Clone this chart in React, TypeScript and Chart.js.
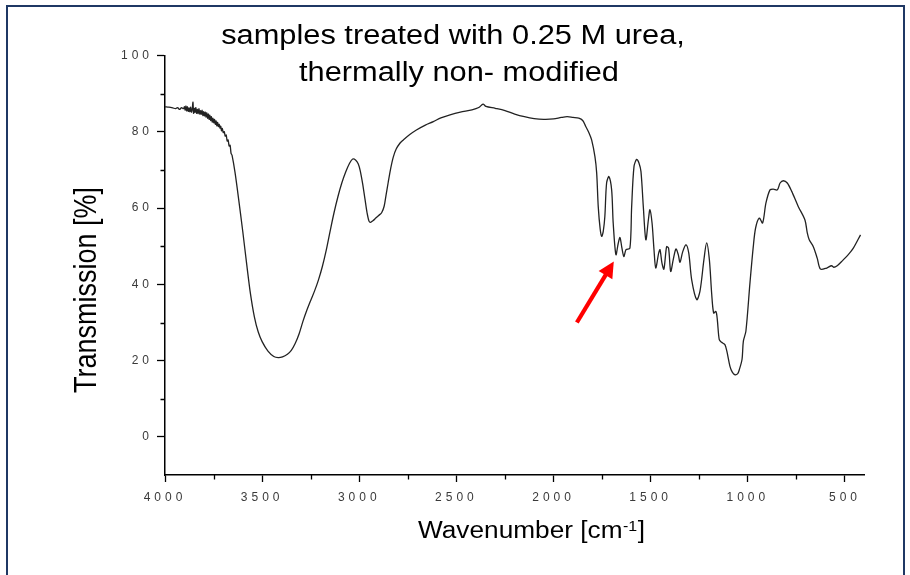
import React, { useEffect, useRef } from "react";
import { Chart, registerables } from "chart.js";

Chart.register(...registerables);

// ---------- data ----------
const WAVENUMBER = [
  4000, 3980, 3960, 3945, 3935, 3925, 3915, 3905, 3900, 3896, 3892, 3888, 3884, 3880, 3876,
  3872, 3868, 3864, 3860, 3856, 3853, 3849, 3845, 3841, 3837, 3833, 3829, 3825, 3821, 3817,
  3813, 3809, 3805, 3801, 3797, 3793, 3789, 3785, 3781, 3777, 3773, 3769, 3765, 3761, 3757,
  3753, 3749, 3745, 3741, 3737, 3733, 3729, 3725, 3721, 3717, 3713, 3709, 3705, 3700, 3695,
  3690, 3685, 3680, 3675, 3670, 3665, 3660, 3655, 3640, 3620, 3600, 3580, 3560, 3540, 3520,
  3500, 3470, 3440, 3417, 3395, 3370, 3350, 3330, 3310, 3290, 3270, 3250, 3230, 3210, 3190,
  3170, 3150, 3130, 3110, 3090, 3070, 3050, 3034, 3018, 3005, 2995, 2983, 2971, 2960, 2950,
  2942, 2930, 2915, 2900, 2885, 2872, 2862, 2851, 2838, 2825, 2810, 2790, 2773, 2740, 2706,
  2660, 2619, 2580, 2533, 2480, 2420, 2385, 2363, 2348, 2300, 2250, 2200, 2150, 2100, 2050,
  2000, 1960, 1930, 1900, 1870, 1850, 1835, 1818, 1804, 1787, 1778, 1770, 1760, 1752, 1744,
  1736, 1727, 1715, 1701, 1693, 1679, 1667, 1658, 1648, 1638, 1627, 1607, 1598, 1586, 1572,
  1560, 1550, 1538, 1525, 1512, 1504, 1493, 1483, 1474, 1459, 1452, 1442, 1432, 1418, 1408,
  1397, 1384, 1370, 1358, 1349, 1335, 1318, 1304, 1289, 1263, 1246, 1226, 1212, 1198, 1186,
  1176, 1164, 1157, 1147, 1135, 1118, 1108, 1092, 1080, 1066, 1052, 1044, 1030, 1023, 1010,
  989, 972, 960, 941, 924, 907, 886, 869, 848, 834, 817, 797, 774, 740, 706,
  694, 684, 663, 643, 626, 594, 569, 557, 540, 517, 483, 457, 420,
];
const TRANSMISSION = [
  86.6, 86.5, 86.3, 86.1, 86.4, 85.9, 86.4, 86.1, 86.6, 85.7, 86.8, 85.5, 86.6, 85.4, 86.3,
  85.3, 86.5, 85.2, 86.0, 87.8, 84.9, 86.2, 85.1, 86.4, 84.9, 85.9, 84.8, 86.1, 84.7, 85.6,
  84.6, 85.7, 84.3, 85.3, 84.2, 85.2, 83.9, 85.0, 83.6, 84.7, 83.3, 84.4, 83.0, 84.0, 82.6,
  83.6, 82.4, 83.3, 82.0, 82.9, 81.6, 82.5, 81.4, 82.0, 81.0, 81.5, 80.3, 80.9, 79.8, 80.1,
  78.9, 79.2, 77.6, 77.9, 76.3, 76.5, 74.4, 73.9, 69.5, 62.0, 54.0, 45.5, 37.5, 31.5, 27.5,
  25.0, 22.5, 21.1, 20.8, 21.0, 21.7, 22.7, 24.5, 27.0, 30.3, 33.2, 35.8, 38.3, 41.2, 44.7,
  49.0, 54.0, 58.8, 63.0, 66.6, 69.5, 71.8, 72.9, 72.6, 71.6, 69.8, 66.5, 62.5, 58.8, 56.6,
  56.3, 56.7, 57.4, 58.1, 58.8, 60.5, 63.5, 66.8, 70.5, 73.4, 75.5, 77.1, 77.9, 79.3, 80.5,
  81.8, 82.7, 83.7, 84.5, 85.2, 85.8, 86.4, 87.3, 86.7, 86.2, 85.6, 84.7, 84.0, 83.5, 83.3,
  83.4, 83.8, 84.0, 83.8, 83.6, 83.0, 81.5, 79.8, 77.9, 73.5, 69.2, 60.4, 54.5, 52.6, 54.0,
  57.8, 66.6, 68.3, 64.8, 56.1, 47.8, 50.8, 52.3, 49.5, 47.3, 49.1, 49.5, 60.4, 70.9, 72.8,
  71.8, 69.6, 60.4, 51.7, 56.9, 59.6, 56.1, 49.1, 44.3, 48.2, 49.1, 45.6, 44.0, 49.9, 49.5,
  43.4, 46.5, 49.3, 47.8, 45.8, 48.6, 50.4, 48.2, 41.2, 36.0, 38.3, 46.5, 50.9, 46.5, 37.5,
  32.5, 32.9, 30.7, 25.5, 24.8, 24.2, 22.5, 18.5, 17.0, 16.3, 16.6, 17.6, 20.3, 25.1, 27.7,
  40.4, 49.9, 54.8, 57.4, 56.1, 61.3, 64.8, 65.0, 64.8, 66.6, 67.2, 66.6, 64.4, 60.4, 56.9,
  53.5, 51.7, 49.9, 46.9, 44.0, 44.3, 44.9, 44.5, 44.9, 46.0, 47.8, 49.5, 53.0,
];

const X_MAJOR_TICKS = [4000, 3500, 3000, 2500, 2000, 1500, 1000, 500];
const X_MINOR_TICKS = [3750, 3250, 2750, 2250, 1750, 1250, 750];
const Y_MAJOR_TICKS = [0, 20, 40, 60, 80, 100];
const Y_MINOR_TICKS = [10, 30, 50, 70, 90];

const TITLE_LINES = ["samples treated with 0.25 M urea,", "thermally non- modified"];
const Y_TITLE = "Transmission [%]";
const X_TITLE_MAIN = "Wavenumber [cm";
const X_TITLE_SUP = "-1";
const X_TITLE_END = "]";

// red arrow annotation (data coordinates)
const ARROW_FROM = { x: 1880, y: 30.0 };
const ARROW_TO = { x: 1690, y: 46.0 };

// ---------- styling ----------
const FONT = '"Liberation Sans", Arial, Helvetica, sans-serif';
const STRETCH = 1.14;

const tickSpacingPlugin = {
  id: "tickSpacing",
  afterDatasetsDraw(chart: any) {
    chart.ctx.letterSpacing = "4px";
  },
  afterDraw(chart: any) {
    chart.ctx.letterSpacing = "0px";
  },
};

const minorTicksPlugin = {
  id: "minorTicks",
  afterDraw(chart: any) {
    const ctx = chart.ctx;
    const xs = chart.scales.x;
    const ys = chart.scales.y;
    ctx.save();
    ctx.strokeStyle = "#000";
    ctx.lineWidth = 1.3;
    ctx.beginPath();
    for (const v of Y_MINOR_TICKS) {
      const py = Math.round(ys.getPixelForValue(v)) + 0.5;
      ctx.moveTo(ys.right - 4.5, py);
      ctx.lineTo(ys.right, py);
    }
    for (const v of X_MINOR_TICKS) {
      const px = Math.round(xs.getPixelForValue(v)) + 0.5;
      ctx.moveTo(px, xs.top);
      ctx.lineTo(px, xs.top + 4.5);
    }
    ctx.stroke();
    ctx.restore();
  },
};

const textPlugin = {
  id: "texts",
  afterDraw(chart: any) {
    const ctx = chart.ctx;
    ctx.save();
    ctx.letterSpacing = "0px";
    ctx.fillStyle = "#000";
    ctx.textBaseline = "alphabetic";

    const stretched = (text: string, x: number, y: number, rot = 0) => {
      ctx.save();
      ctx.translate(x, y);
      ctx.scale(STRETCH, 1);
      if (rot) ctx.rotate(rot);
      ctx.fillText(text, 0, 0);
      ctx.restore();
    };

    // chart title
    ctx.textAlign = "center";
    ctx.font = `27px ${FONT}`;
    stretched(TITLE_LINES[0], 453, 44);
    stretched(TITLE_LINES[1], 459, 81);

    // y axis title
    ctx.font = `27px ${FONT}`;
    stretched(Y_TITLE, 96, 290, -Math.PI / 2);

    // x axis title with superscript
    ctx.textAlign = "left";
    ctx.font = `23px ${FONT}`;
    const w1 = ctx.measureText(X_TITLE_MAIN).width;
    ctx.font = `14px ${FONT}`;
    const w2 = ctx.measureText(X_TITLE_SUP).width;
    ctx.save();
    ctx.translate(418, 538);
    ctx.scale(STRETCH, 1);
    ctx.font = `23px ${FONT}`;
    ctx.fillText(X_TITLE_MAIN, 0, 0);
    ctx.font = `14px ${FONT}`;
    ctx.fillText(X_TITLE_SUP, w1 + 0.5, -7);
    ctx.font = `23px ${FONT}`;
    ctx.fillText(X_TITLE_END, w1 + w2 + 1, 0);
    ctx.restore();

    // red arrow
    const xs = chart.scales.x;
    const ys = chart.scales.y;
    const x0 = xs.getPixelForValue(ARROW_FROM.x);
    const y0 = ys.getPixelForValue(ARROW_FROM.y);
    const x1 = xs.getPixelForValue(ARROW_TO.x);
    const y1 = ys.getPixelForValue(ARROW_TO.y);
    const ang = Math.atan2(y1 - y0, x1 - x0);
    const headLen = 16;
    const headHalf = 8;
    const c = Math.cos(ang);
    const s = Math.sin(ang);
    const bx = x1 - headLen * c;
    const by = y1 - headLen * s;
    ctx.strokeStyle = "#ff0000";
    ctx.fillStyle = "#ff0000";
    ctx.lineWidth = 4.2;
    ctx.lineCap = "butt";
    ctx.beginPath();
    ctx.moveTo(x0, y0);
    ctx.lineTo(bx + c, by + s);
    ctx.stroke();
    ctx.beginPath();
    ctx.moveTo(x1, y1);
    ctx.lineTo(bx - headHalf * s, by + headHalf * c);
    ctx.lineTo(bx + headHalf * s, by - headHalf * c);
    ctx.closePath();
    ctx.fill();

    ctx.restore();
  },
};

export default function App() {
  const canvasRef = useRef<HTMLCanvasElement | null>(null);

  useEffect(() => {
    const canvas = canvasRef.current;
    if (!canvas) return;
    const points = WAVENUMBER.map((x, i) => ({ x, y: TRANSMISSION[i] }));
    const chart = new Chart(canvas, {
      type: "line",
      data: {
        datasets: [
          {
            data: points,
            borderColor: "#222",
            borderWidth: 1.3,
            pointRadius: 0,
            tension: 0.3,
            fill: false,
          },
        ],
      },
      options: {
        animation: false,
        responsive: false,
        devicePixelRatio: 1,
        events: [],
        layout: { padding: { top: 55.7, right: 45.6, bottom: 0, left: 0 } },
        plugins: {
          legend: { display: false },
          title: { display: false },
          tooltip: { enabled: false },
        },
        scales: {
          x: {
            type: "linear",
            position: "bottom",
            reverse: true,
            min: 400,
            max: 4000,
            afterBuildTicks: (s: any) => {
              s.ticks = X_MAJOR_TICKS.map((v) => ({ value: v }));
            },
            afterFit: (s: any) => {
              s.height = 100;
            },
            grid: {
              drawOnChartArea: false,
              drawTicks: true,
              tickLength: 7,
              tickColor: "#000",
              tickWidth: 1.3,
            },
            border: { display: true, color: "#000", width: 1.5 },
            ticks: {
              z: 1,
              color: "#3a3a3a",
              font: { family: FONT, size: 12 },
              padding: 8,
              maxRotation: 0,
              autoSkip: false,
              callback: (v: any) => String(v),
            },
            title: { display: false },
          },
          y: {
            type: "linear",
            position: "left",
            min: -10,
            max: 100,
            afterBuildTicks: (s: any) => {
              s.ticks = Y_MAJOR_TICKS.map((v) => ({ value: v }));
            },
            afterFit: (s: any) => {
              s.width = 165;
            },
            grid: {
              drawOnChartArea: false,
              drawTicks: true,
              tickLength: 8,
              tickColor: "#000",
              tickWidth: 1.3,
            },
            border: { display: true, color: "#000", width: 1.5 },
            ticks: {
              z: 1,
              color: "#3a3a3a",
              font: { family: FONT, size: 12 },
              padding: 4,
              autoSkip: false,
              callback: (v: any) => String(v),
            },
            title: { display: false },
          },
        },
      },
      plugins: [tickSpacingPlugin, minorTicksPlugin, textPlugin],
    } as any);
    return () => chart.destroy();
  }, []);

  return (
    <div style={{ position: "absolute", left: 0, top: 0, width: 910, height: 575, background: "#fff" }}>
      <canvas ref={canvasRef} width={910} height={575} style={{ display: "block", width: 910, height: 575 }} />
      <div
        style={{
          position: "absolute",
          left: 6,
          top: 5,
          width: 895,
          height: 570,
          borderTop: "2px solid #1f3864",
          borderLeft: "2px solid #1f3864",
          borderRight: "2px solid #1f3864",
          borderBottom: "none",
          pointerEvents: "none",
        }}
      />
    </div>
  );
}
